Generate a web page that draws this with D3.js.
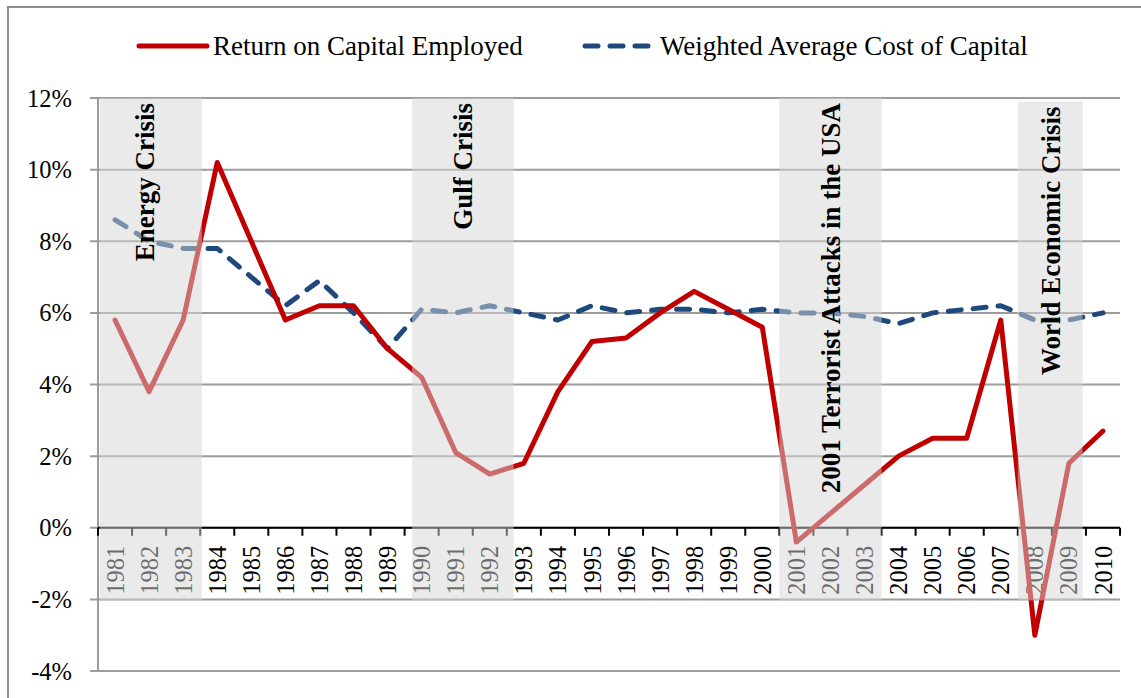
<!DOCTYPE html>
<html lang="en">
<head>
    <meta charset="UTF-8">
    <title>ROCE vs WACC</title>
    <script src="https://d3js.org/d3.v7.min.js"></script>
    <style>
        body {
            margin: 0;
            padding: 0;
            background-color: #fff;
        }
        svg text {
            font-family: "Liberation Serif", "Times New Roman", serif;
        }
    </style>
</head>
<body>
    <div id="chart"></div>

    <script>
        const years = d3.range(1981, 2011).map(String);

        const roce = [
            5.8, 3.8, 5.8, 10.2, 8.0, 5.8, 6.2, 6.2, 5.0, 4.2,
            2.1, 1.5, 1.8, 3.8, 5.2, 5.3, 6.0, 6.6, 6.1, 5.6,
            -0.4, 0.4, 1.2, 2.0, 2.5, 2.5, 5.8, -3.0, 1.8, 2.7
        ];

        const wacc = [
            8.6, 8.0, 7.8, 7.8, 7.0, 6.2, 6.9, 6.0, 5.0, 6.1,
            6.0, 6.2, 6.0, 5.8, 6.2, 6.0, 6.1, 6.1, 6.0, 6.1,
            6.0, 6.0, 5.9, 5.7, 6.0, 6.1, 6.2, 5.8, 5.8, 6.0
        ];

        const yTicks = [-4, -2, 0, 2, 4, 6, 8, 10, 12];

        // crisis periods, in year units (start of band .. end of band)
        const crisisLabels = ["Energy Crisis", "Gulf Crisis", "2001 Terrorist Attacks in the USA", "World Economic Crisis"];
        const crisisStart = [1981.05, 1990.22, 2001.0, 2008.0];
        const crisisEnd = [1984.05, 1993.2, 2004.0, 2009.9];
        const crisisTop = [12, 12, 12, 11.9];

        const width = 1141, height = 698;
        const plot = { left: 98, right: 1120, top: 98, bottom: 671 };

        const svg = d3.select("#chart")
            .append("svg")
            .attr("width", width)
            .attr("height", height);

        // outer frame
        svg.append("rect")
            .attr("x", 8).attr("y", 7)
            .attr("width", width + 10).attr("height", height + 10)
            .attr("fill", "none")
            .attr("stroke", "#8c8c8c")
            .attr("stroke-width", 2);

        const x = d3.scaleBand()
            .domain(years)
            .range([plot.left, plot.right])
            .padding(0);

        const xYear = d3.scaleLinear()
            .domain([1981, 2011])
            .range([plot.left, plot.right]);

        const y = d3.scaleLinear()
            .domain([-4, 12])
            .range([plot.bottom, plot.top]);

        // gridlines
        svg.append("g")
            .selectAll("line")
            .data(yTicks)
            .enter()
            .append("line")
            .attr("x1", plot.left - 8)
            .attr("x2", plot.right)
            .attr("y1", d => y(d))
            .attr("y2", d => y(d))
            .attr("stroke", "#9c9c9c")
            .attr("stroke-width", 2);

        // y axis line
        svg.append("line")
            .attr("x1", plot.left).attr("x2", plot.left)
            .attr("y1", plot.top).attr("y2", plot.bottom)
            .attr("stroke", "#9c9c9c")
            .attr("stroke-width", 2);

        // y labels
        svg.append("g")
            .selectAll("text")
            .data(yTicks)
            .enter()
            .append("text")
            .attr("x", 72)
            .attr("y", d => y(d))
            .attr("dy", "0.35em")
            .attr("text-anchor", "end")
            .style("font-size", "24.5px")
            .attr("fill", "#000")
            .text(d => d + "%");

        // zero axis with ticks between categories
        const xAxis = svg.append("g")
            .attr("transform", `translate(0,${y(0)})`);

        xAxis.append("line")
            .attr("x1", plot.left).attr("x2", plot.right)
            .attr("stroke", "#000")
            .attr("stroke-width", 2);

        xAxis.selectAll("line.tick")
            .data(years.concat(["end"]))
            .enter()
            .append("line")
            .attr("class", "tick")
            .attr("x1", d => d === "end" ? plot.right : x(d))
            .attr("x2", d => d === "end" ? plot.right : x(d))
            .attr("y1", 0).attr("y2", 8)
            .attr("stroke", "#000")
            .attr("stroke-width", 2);

        xAxis.selectAll("text")
            .data(years)
            .enter()
            .append("text")
            .attr("transform", d => `translate(${x(d) + x.bandwidth() / 2},18) rotate(-90)`)
            .attr("dy", "0.35em")
            .attr("text-anchor", "end")
            .style("font-size", "24.5px")
            .attr("fill", "#000")
            .text(d => d);

        // lines
        const line = d3.line()
            .x((d, i) => x(years[i]) + x.bandwidth() / 2)
            .y(d => y(d));

        svg.append("path")
            .datum(wacc)
            .attr("d", line)
            .attr("fill", "none")
            .attr("stroke", "#1F497D")
            .attr("stroke-width", 5)
            .attr("stroke-dasharray", "13,12")
            .attr("stroke-linecap", "round")
            .attr("stroke-linejoin", "round");

        svg.append("path")
            .datum(roce)
            .attr("d", line)
            .attr("fill", "none")
            .attr("stroke", "#C00000")
            .attr("stroke-width", 5)
            .attr("stroke-linecap", "round")
            .attr("stroke-linejoin", "round");

        // crisis shading (drawn over the lines so they fade)
        const crises = crisisLabels.map((label, i) => ({
            label: label,
            start: crisisStart[i],
            end: crisisEnd[i],
            top: crisisTop[i]
        }));

        svg.append("g")
            .selectAll("rect")
            .data(crises)
            .enter()
            .append("rect")
            .attr("x", d => xYear(d.start))
            .attr("width", d => xYear(d.end) - xYear(d.start))
            .attr("y", d => y(d.top))
            .attr("height", d => y(-2) - y(d.top) + 1)
            .attr("fill", "rgb(214,214,214)")
            .attr("fill-opacity", 0.5);

        svg.append("g")
            .selectAll("text")
            .data(crises)
            .enter()
            .append("text")
            .attr("transform", (d, i) => `translate(${(xYear(d.start) + xYear(d.end)) / 2 - (i === 0 ? 6 : 0)},${y(d.top) + 5}) rotate(-90)`)
            .attr("dy", "0.35em")
            .attr("text-anchor", "end")
            .style("font-size", "27px")
            .style("font-weight", "bold")
            .attr("fill", "#000")
            .text(d => d.label);

        // legend
        const legend = svg.append("g");

        legend.append("line")
            .attr("x1", 139).attr("x2", 207)
            .attr("y1", 46).attr("y2", 46)
            .attr("stroke", "#C00000")
            .attr("stroke-width", 5)
            .attr("stroke-linecap", "round");

        legend.append("text")
            .attr("x", 213).attr("y", 46)
            .attr("dy", "0.35em")
            .style("font-size", "27px")
            .text("Return on Capital Employed");

        legend.append("line")
            .attr("x1", 585).attr("x2", 650)
            .attr("y1", 46).attr("y2", 46)
            .attr("stroke", "#1F497D")
            .attr("stroke-width", 5)
            .attr("stroke-dasharray", "13,12")
            .attr("stroke-linecap", "round");

        legend.append("text")
            .attr("x", 660).attr("y", 46)
            .attr("dy", "0.35em")
            .style("font-size", "27px")
            .text("Weighted Average Cost of Capital");
    </script>
</body>
</html>
